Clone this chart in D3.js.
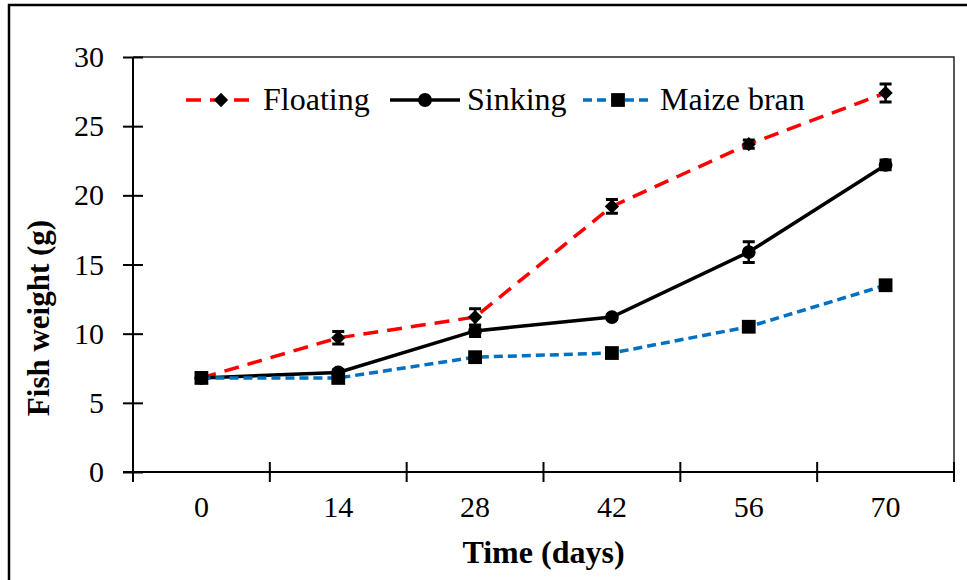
<!DOCTYPE html>
<html>
<head>
<meta charset="utf-8">
<script src="https://cdn.jsdelivr.net/npm/d3@7"></script>
<style>
  html, body { margin: 0; padding: 0; background: #fff; }
  svg { display: block; }
  svg text { font-family: "Times New Roman", "Liberation Serif", Times, "DejaVu Serif", serif !important; fill: #000; }
</style>
</head>
<body>
<div class="container"></div>
<script>
// data
const days = ["0", "14", "28", "42", "56", "70"];
const yTicks = [0, 5, 10, 15, 20, 25, 30];

const floating = [6.8, 9.7, 11.2, 19.2, 23.7, 27.4];
const floatingErr = [0.1, 0.45, 0.6, 0.5, 0.3, 0.65];
const sinking = [6.8, 7.2, 10.2, 11.2, 15.9, 22.2];
const sinkingErr = [0.1, 0.2, 0.4, 0.15, 0.75, 0.35];
const maize = [6.8, 6.8, 8.3, 8.6, 10.5, 13.5];
const maizeErr = [0.1, 0.1, 0.15, 0.15, 0.2, 0.2];

const seriesNames = ["Floating", "Sinking", "Maize bran"];

const width = 967, height = 580;
const margin = {top: 57, right: 13, bottom: 108, left: 133};
const plotW = width - margin.left - margin.right;
const plotH = height - margin.top - margin.bottom;

const svg = d3.select(".container")
  .append("svg")
  .attr("width", width)
  .attr("height", height)
  .attr("font-family", "Times New Roman, Liberation Serif, serif");

// outer frame (cropped at right and bottom in the original)
svg.append("rect")
  .attr("x", 9).attr("y", 5)
  .attr("width", 1200).attr("height", 1200)
  .attr("fill", "none")
  .attr("stroke", "#000")
  .attr("stroke-width", 2.5);

const chart = svg.append("g")
  .attr("transform", "translate(" + margin.left + "," + margin.top + ")");

const xScale = d3.scaleBand().domain(days).range([0, plotW]).padding(0);
const yScale = d3.scaleLinear().domain([0, 30]).range([plotH, 0]);

// plot box: top and right edges
chart.append("path")
  .attr("d", "M0,0H" + plotW + "V" + plotH)
  .attr("fill", "none")
  .attr("stroke", "#222")
  .attr("stroke-width", 1.5);

// y axis
const yAxis = chart.append("g")
  .call(d3.axisLeft(yScale).tickValues(yTicks).tickSize(10).tickPadding(19));
yAxis.attr("font-family", null);
yAxis.select(".domain").attr("stroke-width", 2).attr("d", "M0,0V" + plotH);
yAxis.selectAll(".tick line").attr("x1", -10).attr("x2", 10).attr("stroke-width", 2);
yAxis.selectAll("text").style("font-size", "30px");

// x axis: labels centred in bands, tick marks at band edges
const xAxis = chart.append("g")
  .attr("transform", "translate(0," + plotH + ")")
  .call(d3.axisBottom(xScale).tickSize(0).tickPadding(24));
xAxis.attr("font-family", null);
xAxis.select(".domain").attr("stroke-width", 2).attr("d", "M-10,0H" + plotW);
xAxis.selectAll("text").style("font-size", "30px");

const edges = days.map(d => xScale(d)).concat([xScale.range()[1]]);
chart.append("g").selectAll("line")
  .data(edges)
  .enter()
  .append("line")
  .attr("x1", d => d).attr("x2", d => d)
  .attr("y1", plotH - 10).attr("y2", plotH + 10)
  .attr("stroke", "#000")
  .attr("stroke-width", 2);

// axis titles
svg.append("text")
  .attr("x", margin.left + plotW / 2)
  .attr("y", 563)
  .attr("text-anchor", "middle")
  .style("font-size", "32px")
  .style("font-weight", "bold")
  .text("Time (days)");

svg.append("text")
  .attr("transform", "translate(49,318) rotate(-90)")
  .attr("text-anchor", "middle")
  .style("font-size", "31px")
  .style("font-weight", "bold")
  .text("Fish weight (g)");

const cx = d => xScale(d) + xScale.bandwidth() / 2;

const series = [
  {name: seriesNames[0], values: floating, err: floatingErr, color: "#ff0000", dash: "15,9", symbol: d3.symbolDiamond2, size: 130},
  {name: seriesNames[1], values: sinking, err: sinkingErr, color: "#000000", dash: null, symbol: d3.symbolCircle, size: 150},
  {name: seriesNames[2], values: maize, err: maizeErr, color: "#0070c0", dash: "9,5", symbol: d3.symbolSquare, size: 190}
];

const line = d3.line()
  .x((v, i) => cx(days[i]))
  .y(v => yScale(v));

series.forEach(function(s) {
  chart.append("path")
    .datum(s.values)
    .attr("d", line)
    .attr("fill", "none")
    .attr("stroke", s.color)
    .attr("stroke-width", 3.5)
    .attr("stroke-dasharray", s.dash);

  // error bars
  const eb = chart.append("g").selectAll("g")
    .data(s.values.map((v, i) => ({day: days[i], v: v, e: s.err[i]})))
    .enter()
    .append("g");
  eb.append("line")
    .attr("x1", d => cx(d.day)).attr("x2", d => cx(d.day))
    .attr("y1", d => yScale(d.v - d.e)).attr("y2", d => yScale(d.v + d.e))
    .attr("stroke", "#000").attr("stroke-width", 2.5);
  eb.append("path")
    .attr("d", d => "M" + (cx(d.day) - 6) + "," + yScale(d.v + d.e) + "h12M" + (cx(d.day) - 6) + "," + yScale(d.v - d.e) + "h12")
    .attr("stroke", "#000").attr("stroke-width", 3);

  chart.append("g").selectAll("path")
    .data(s.values)
    .enter()
    .append("path")
    .attr("transform", (v, i) => "translate(" + cx(days[i]) + "," + yScale(v) + ")")
    .attr("d", d3.symbol().type(s.symbol).size(s.size))
    .attr("fill", "#000");
});

// legend
const legendX = [186, 390, 583];
const legendY = 100;
const legend = svg.append("g");
series.forEach(function(s, i) {
  const g = legend.append("g").attr("transform", "translate(" + legendX[i] + "," + legendY + ")");
  g.append("line")
    .attr("x1", 0).attr("x2", 70)
    .attr("y1", 0).attr("y2", 0)
    .attr("stroke", s.color)
    .attr("stroke-width", 3.5)
    .attr("stroke-dasharray", s.dash);
  g.append("path")
    .attr("transform", "translate(35,0)")
    .attr("d", d3.symbol().type(s.symbol).size(s.size))
    .attr("fill", "#000");
  g.append("text")
    .attr("x", 77)
    .attr("y", 10)
    .style("font-size", "32px")
    .text(s.name);
});
</script>
</body>
</html>
